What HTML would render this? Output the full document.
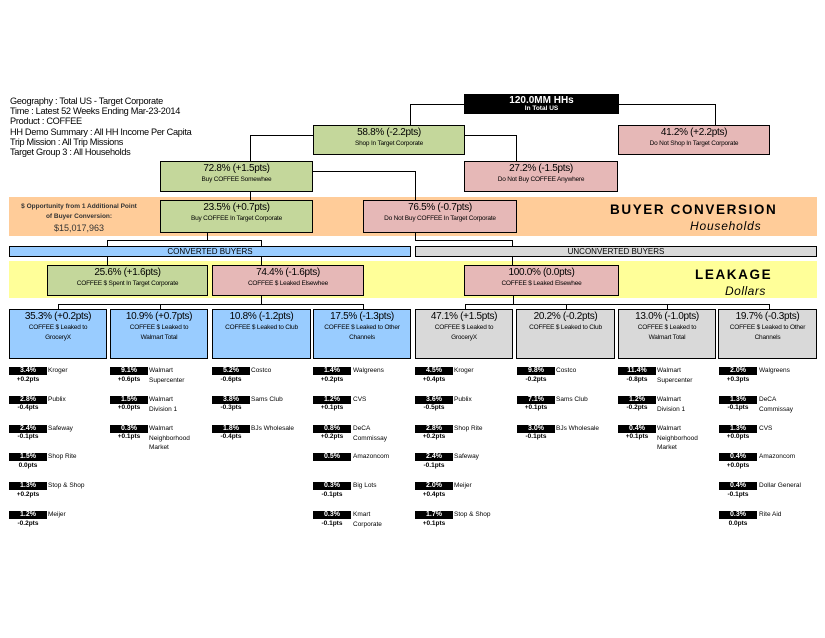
<!DOCTYPE html>
<html><head><meta charset="utf-8"><style>
*{margin:0;padding:0;box-sizing:border-box}
body{width:825px;height:638px;background:#fff;position:relative;overflow:hidden;font-family:"Liberation Sans",Arial,sans-serif;color:#000}
div{position:absolute}
.b div{position:static}
.b{border:1px solid #000;text-align:center;line-height:1}
.b .p{font-size:10px;margin-top:2px;letter-spacing:-0.3px}
.b .s{font-size:6.5px;margin-top:1px;line-height:10px;letter-spacing:-0.2px}
.g{background:#C4D79B}.r{background:#E6B8B7}.bl{background:#99CCFF}.gr{background:#D9D9D9}
.h{height:1px;background:#000}.v{width:1px;background:#000}
.hd{font-size:9.2px;left:10px;letter-spacing:-0.3px}
.k{width:38px;height:8px;background:#000;color:#fff;font-size:7px;font-weight:bold;text-align:center;line-height:8px}
.d{width:38px;font-size:6.5px;font-weight:bold;text-align:center;line-height:8px}
.l{font-size:6.5px;line-height:9.5px;width:60px}
</style></head><body>
<div class="hd" style="top:96px">Geography : Total US - Target Corporate</div>
<div class="hd" style="top:106px">Time : Latest 52 Weeks Ending Mar-23-2014</div>
<div class="hd" style="top:116px">Product : COFFEE</div>
<div class="hd" style="top:127px">HH Demo Summary : All HH Income Per Capita</div>
<div class="hd" style="top:137px">Trip Mission : All Trip Missions</div>
<div class="hd" style="top:147px">Target Group 3 : All Households</div>

<div style="left:9px;top:197px;width:808px;height:39px;background:#FFCC99"></div>
<div style="left:9px;top:261px;width:808px;height:37px;background:#FFFF99"></div>

<div class="h" style="left:410px;top:104px;width:54px"></div>
<div class="v" style="left:410px;top:104px;height:21px"></div>
<div class="h" style="left:619px;top:104px;width:96px"></div>
<div class="v" style="left:715px;top:104px;height:21px"></div>
<div class="h" style="left:250px;top:135px;width:63px"></div>
<div class="v" style="left:250px;top:135px;height:26px"></div>
<div class="h" style="left:464px;top:135px;width:52px"></div>
<div class="v" style="left:516px;top:135px;height:26px"></div>
<div class="v" style="left:250px;top:192px;height:8px"></div>
<div class="h" style="left:313px;top:171px;width:102px"></div>
<div class="v" style="left:415px;top:171px;height:29px"></div>
<div class="v" style="left:207px;top:233px;height:8px"></div>
<div class="h" style="left:107px;top:240px;width:155px"></div>
<div class="v" style="left:107px;top:240px;height:6px"></div>
<div class="v" style="left:261px;top:240px;height:6px"></div>
<div class="v" style="left:415px;top:233px;height:8px"></div>
<div class="h" style="left:415px;top:240px;width:98px"></div>
<div class="v" style="left:512px;top:240px;height:6px"></div>
<div class="v" style="left:107px;top:256px;height:9px"></div>
<div class="v" style="left:261px;top:256px;height:9px"></div>
<div class="v" style="left:512px;top:256px;height:9px"></div>
<div class="v" style="left:261px;top:296px;height:8px"></div>
<div class="h" style="left:58px;top:304px;width:306px"></div>
<div class="v" style="left:58px;top:304px;height:5px"></div>
<div class="v" style="left:160px;top:304px;height:5px"></div>
<div class="v" style="left:363px;top:304px;height:5px"></div>
<div class="v" style="left:513px;top:296px;height:8px"></div>
<div class="h" style="left:465px;top:304px;width:305px"></div>
<div class="v" style="left:465px;top:304px;height:5px"></div>
<div class="v" style="left:566px;top:304px;height:5px"></div>
<div class="v" style="left:667px;top:304px;height:5px"></div>
<div class="v" style="left:769px;top:304px;height:5px"></div>

<div class="b" style="left:464px;top:94px;width:155px;height:20px;background:#000;color:#fff"><div style="font-size:10px;font-weight:bold;margin-top:1px">120.0MM HHs</div><div style="font-size:6.5px;font-weight:bold">In Total US</div></div>
<div class="b g" style="left:313px;top:125px;width:152px;height:30px"><div class="p">58.8% (-2.2pts)</div><div class="s">Shop In Target Corporate</div></div>
<div class="b r" style="left:618px;top:125px;width:152px;height:30px"><div class="p">41.2% (+2.2pts)</div><div class="s">Do Not Shop In Target Corporate</div></div>
<div class="b g" style="left:160px;top:161px;width:153px;height:31px"><div class="p">72.8% (+1.5pts)</div><div class="s">Buy COFFEE Somewhee</div></div>
<div class="b r" style="left:464px;top:161px;width:154px;height:31px"><div class="p">27.2% (-1.5pts)</div><div class="s">Do Not Buy COFFEE Anywhere</div></div>
<div class="b g" style="left:160px;top:200px;width:153px;height:33px"><div class="p">23.5% (+0.7pts)</div><div class="s">Buy COFFEE In Target Corporate</div></div>
<div class="b r" style="left:363px;top:200px;width:154px;height:33px"><div class="p">76.5% (-0.7pts)</div><div class="s">Do Not Buy COFFEE In Target Corporate</div></div>

<div style="left:14px;top:202px;width:130px;text-align:center;font-size:6.5px;font-weight:bold;line-height:10px;color:#333">$ Opportunity from 1 Additional Point<br>of Buyer Conversion:</div>
<div style="left:14px;top:223px;width:130px;text-align:center;font-size:9px;color:#333">$15,017,963</div>
<div style="left:610px;top:202px;font-size:13.5px;font-weight:bold;letter-spacing:1.6px">BUYER CONVERSION</div>
<div style="left:690px;top:219px;font-size:12px;font-style:italic;letter-spacing:0.8px">Households</div>
<div style="left:695px;top:267px;font-size:13.5px;font-weight:bold;letter-spacing:1.6px">LEAKAGE</div>
<div style="left:725px;top:284px;font-size:12px;font-style:italic;letter-spacing:0.5px">Dollars</div>

<div class="b bl" style="left:9px;top:246px;width:402px;height:11px;font-size:8px;line-height:9px">CONVERTED BUYERS</div>
<div class="b gr" style="left:415px;top:246px;width:402px;height:11px;font-size:8px;line-height:9px">UNCONVERTED BUYERS</div>

<div class="b g" style="left:47px;top:265px;width:161px;height:31px"><div class="p">25.6% (+1.6pts)</div><div class="s">COFFEE $ Spent In Target Corporate</div></div>
<div class="b r" style="left:212px;top:265px;width:152px;height:31px"><div class="p">74.4% (-1.6pts)</div><div class="s">COFFEE $ Leaked Elsewhee</div></div>
<div class="b r" style="left:464px;top:265px;width:155px;height:31px"><div class="p">100.0% (0.0pts)</div><div class="s">COFFEE $ Leaked Elsewhee</div></div>

<div class="b bl" style="left:9px;top:309px;width:98px;height:50px"><div class="p">35.3% (+0.2pts)</div><div class="s">COFFEE $ Leaked to<br>GroceryX</div></div>
<div class="b bl" style="left:110px;top:309px;width:98px;height:50px"><div class="p">10.9% (+0.7pts)</div><div class="s">COFFEE $ Leaked to<br>Walmart Total</div></div>
<div class="b bl" style="left:212px;top:309px;width:99px;height:50px"><div class="p">10.8% (-1.2pts)</div><div class="s">COFFEE $ Leaked to Club</div></div>
<div class="b bl" style="left:313px;top:309px;width:98px;height:50px"><div class="p">17.5% (-1.3pts)</div><div class="s">COFFEE $ Leaked to Other<br>Channels</div></div>
<div class="b gr" style="left:415px;top:309px;width:98px;height:50px"><div class="p">47.1% (+1.5pts)</div><div class="s">COFFEE $ Leaked to<br>GroceryX</div></div>
<div class="b gr" style="left:516px;top:309px;width:99px;height:50px"><div class="p">20.2% (-0.2pts)</div><div class="s">COFFEE $ Leaked to Club</div></div>
<div class="b gr" style="left:618px;top:309px;width:98px;height:50px"><div class="p">13.0% (-1.0pts)</div><div class="s">COFFEE $ Leaked to<br>Walmart Total</div></div>
<div class="b gr" style="left:718px;top:309px;width:99px;height:50px"><div class="p">19.7% (-0.3pts)</div><div class="s">COFFEE $ Leaked to Other<br>Channels</div></div>

<div class="k" style="left:9px;top:367px">3.4%</div><div class="d" style="left:9px;top:376px">+0.2pts</div><div class="l" style="left:48px;top:366px">Kroger</div>
<div class="k" style="left:9px;top:396px">2.8%</div><div class="d" style="left:9px;top:404px">-0.4pts</div><div class="l" style="left:48px;top:395px">Publix</div>
<div class="k" style="left:9px;top:425px">2.4%</div><div class="d" style="left:9px;top:433px">-0.1pts</div><div class="l" style="left:48px;top:424px">Safeway</div>
<div class="k" style="left:9px;top:453px">1.5%</div><div class="d" style="left:9px;top:462px">0.0pts</div><div class="l" style="left:48px;top:452px">Shop Rite</div>
<div class="k" style="left:9px;top:482px">1.3%</div><div class="d" style="left:9px;top:491px">+0.2pts</div><div class="l" style="left:48px;top:481px">Stop &amp; Shop</div>
<div class="k" style="left:9px;top:511px">1.2%</div><div class="d" style="left:9px;top:520px">-0.2pts</div><div class="l" style="left:48px;top:510px">Meijer</div>

<div class="k" style="left:110px;top:367px">9.1%</div><div class="d" style="left:110px;top:376px">+0.6pts</div><div class="l" style="left:149px;top:366px">Walmart<br>Supercenter</div>
<div class="k" style="left:110px;top:396px">1.5%</div><div class="d" style="left:110px;top:404px">+0.0pts</div><div class="l" style="left:149px;top:395px">Walmart<br>Division 1</div>
<div class="k" style="left:110px;top:425px">0.3%</div><div class="d" style="left:110px;top:433px">+0.1pts</div><div class="l" style="left:149px;top:424px">Walmart<br>Neighborhood<br>Market</div>

<div class="k" style="left:212px;top:367px">5.2%</div><div class="d" style="left:212px;top:376px">-0.6pts</div><div class="l" style="left:251px;top:366px">Costco</div>
<div class="k" style="left:212px;top:396px">3.8%</div><div class="d" style="left:212px;top:404px">-0.3pts</div><div class="l" style="left:251px;top:395px">Sams Club</div>
<div class="k" style="left:212px;top:425px">1.8%</div><div class="d" style="left:212px;top:433px">-0.4pts</div><div class="l" style="left:251px;top:424px">BJs Wholesale</div>

<div class="k" style="left:313px;top:367px">1.4%</div><div class="d" style="left:313px;top:376px">+0.2pts</div><div class="l" style="left:353px;top:366px">Walgreens</div>
<div class="k" style="left:313px;top:396px">1.2%</div><div class="d" style="left:313px;top:404px">+0.1pts</div><div class="l" style="left:353px;top:395px">CVS</div>
<div class="k" style="left:313px;top:425px">0.8%</div><div class="d" style="left:313px;top:433px">+0.2pts</div><div class="l" style="left:353px;top:424px">DeCA<br>Commissay</div>
<div class="k" style="left:313px;top:453px">0.5%</div><div class="l" style="left:353px;top:452px">Amazoncom</div>
<div class="k" style="left:313px;top:482px">0.3%</div><div class="d" style="left:313px;top:491px">-0.1pts</div><div class="l" style="left:353px;top:481px">Big Lots</div>
<div class="k" style="left:313px;top:511px">0.3%</div><div class="d" style="left:313px;top:520px">-0.1pts</div><div class="l" style="left:353px;top:510px">Kmart<br>Corporate</div>

<div class="k" style="left:415px;top:367px">4.5%</div><div class="d" style="left:415px;top:376px">+0.4pts</div><div class="l" style="left:454px;top:366px">Kroger</div>
<div class="k" style="left:415px;top:396px">3.6%</div><div class="d" style="left:415px;top:404px">-0.5pts</div><div class="l" style="left:454px;top:395px">Publix</div>
<div class="k" style="left:415px;top:425px">2.8%</div><div class="d" style="left:415px;top:433px">+0.2pts</div><div class="l" style="left:454px;top:424px">Shop Rite</div>
<div class="k" style="left:415px;top:453px">2.4%</div><div class="d" style="left:415px;top:462px">-0.1pts</div><div class="l" style="left:454px;top:452px">Safeway</div>
<div class="k" style="left:415px;top:482px">2.0%</div><div class="d" style="left:415px;top:491px">+0.4pts</div><div class="l" style="left:454px;top:481px">Meijer</div>
<div class="k" style="left:415px;top:511px">1.7%</div><div class="d" style="left:415px;top:520px">+0.1pts</div><div class="l" style="left:454px;top:510px">Stop &amp; Shop</div>

<div class="k" style="left:517px;top:367px">9.8%</div><div class="d" style="left:517px;top:376px">-0.2pts</div><div class="l" style="left:556px;top:366px">Costco</div>
<div class="k" style="left:517px;top:396px">7.1%</div><div class="d" style="left:517px;top:404px">+0.1pts</div><div class="l" style="left:556px;top:395px">Sams Club</div>
<div class="k" style="left:517px;top:425px">3.0%</div><div class="d" style="left:517px;top:433px">-0.1pts</div><div class="l" style="left:556px;top:424px">BJs Wholesale</div>

<div class="k" style="left:618px;top:367px">11.4%</div><div class="d" style="left:618px;top:376px">-0.8pts</div><div class="l" style="left:657px;top:366px">Walmart<br>Supercenter</div>
<div class="k" style="left:618px;top:396px">1.2%</div><div class="d" style="left:618px;top:404px">-0.2pts</div><div class="l" style="left:657px;top:395px">Walmart<br>Division 1</div>
<div class="k" style="left:618px;top:425px">0.4%</div><div class="d" style="left:618px;top:433px">+0.1pts</div><div class="l" style="left:657px;top:424px">Walmart<br>Neighborhood<br>Market</div>

<div class="k" style="left:719px;top:367px">2.0%</div><div class="d" style="left:719px;top:376px">+0.3pts</div><div class="l" style="left:759px;top:366px">Walgreens</div>
<div class="k" style="left:719px;top:396px">1.3%</div><div class="d" style="left:719px;top:404px">-0.1pts</div><div class="l" style="left:759px;top:395px">DeCA<br>Commissay</div>
<div class="k" style="left:719px;top:425px">1.3%</div><div class="d" style="left:719px;top:433px">+0.0pts</div><div class="l" style="left:759px;top:424px">CVS</div>
<div class="k" style="left:719px;top:453px">0.4%</div><div class="d" style="left:719px;top:462px">+0.0pts</div><div class="l" style="left:759px;top:452px">Amazoncom</div>
<div class="k" style="left:719px;top:482px">0.4%</div><div class="d" style="left:719px;top:491px">-0.1pts</div><div class="l" style="left:759px;top:481px">Dollar General</div>
<div class="k" style="left:719px;top:511px">0.3%</div><div class="d" style="left:719px;top:520px">0.0pts</div><div class="l" style="left:759px;top:510px">Rite Aid</div>
</body></html>
